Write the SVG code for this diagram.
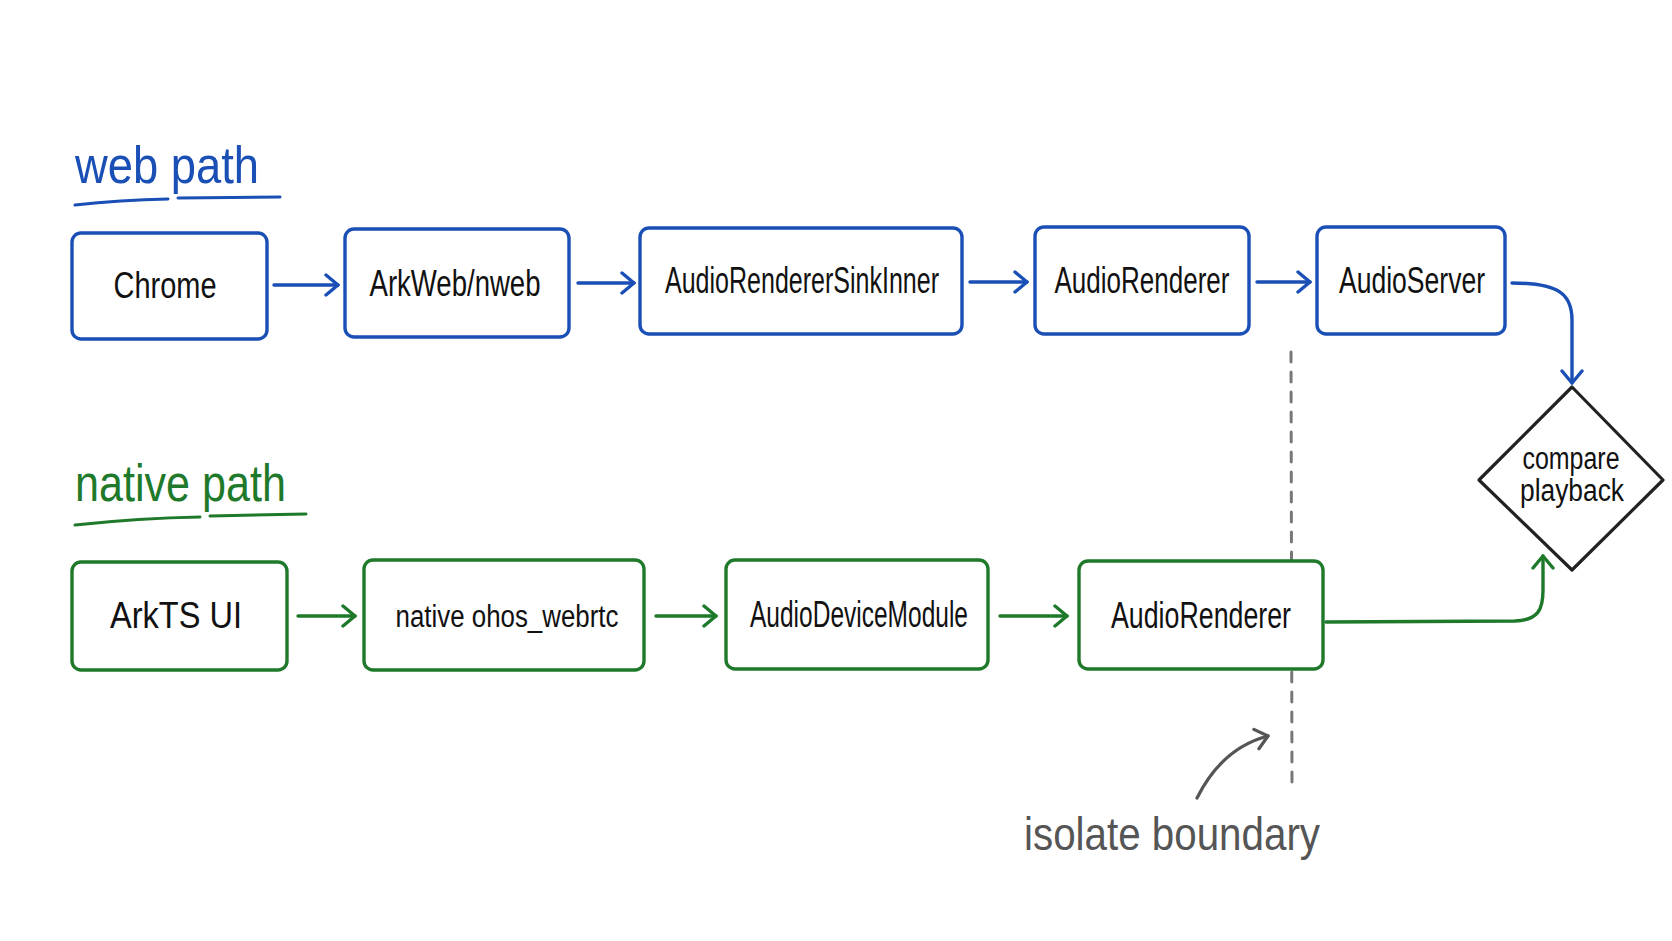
<svg xmlns="http://www.w3.org/2000/svg" width="1672" height="941" viewBox="0 0 1672 941">
<defs>
<style>
text{font-family:"Liberation Sans","DejaVu Sans",sans-serif;}
.lbl{font-size:36px;fill:#111;text-anchor:middle;}
.blue rect{fill:#fff;stroke:#1a4fb5;stroke-width:3.4;}
.green rect{fill:#fff;stroke:#1e7a2a;stroke-width:3.4;}
.title{font-size:52px;}
.cb{fill:none;stroke:#1a4fb5;stroke-width:3.4;stroke-linecap:round;}
.cg{fill:none;stroke:#1e7a2a;stroke-width:3.4;stroke-linecap:round;}
.cgr{fill:none;stroke:#555;stroke-width:3.2;stroke-linecap:round;}
</style>
<marker id="ab" viewBox="0 0 16 24" refX="14" refY="12" markerWidth="16" markerHeight="24" markerUnits="userSpaceOnUse" orient="auto"><path d="M2,2 L14,12 L2,22" fill="none" stroke="#1a4fb5" stroke-width="3.4" stroke-linecap="round" stroke-linejoin="round"/></marker>
<marker id="ag" viewBox="0 0 16 24" refX="14" refY="12" markerWidth="16" markerHeight="24" markerUnits="userSpaceOnUse" orient="auto"><path d="M2,2 L14,12 L2,22" fill="none" stroke="#1e7a2a" stroke-width="3.4" stroke-linecap="round" stroke-linejoin="round"/></marker>
<marker id="agr" viewBox="0 0 16 24" refX="14" refY="12" markerWidth="16" markerHeight="24" markerUnits="userSpaceOnUse" orient="auto"><path d="M2,2 L14,12 L2,22" fill="none" stroke="#555" stroke-width="3.2" stroke-linecap="round" stroke-linejoin="round"/></marker>
</defs>
<rect width="1672" height="941" fill="#fff"/>

<g id="title-web">
<text x="75" y="183" class="title" fill="#1a4fb5" textLength="184" lengthAdjust="spacingAndGlyphs">web path</text>
<path d="M75,205 Q120,200 168,199 M178,198 L280,197" fill="none" stroke="#1a4fb5" stroke-width="3" stroke-linecap="round"/>
</g>
<g id="title-native">
<text x="75" y="501" class="title" fill="#1e7a2a" textLength="211" lengthAdjust="spacingAndGlyphs">native path</text>
<path d="M75,525 Q140,518 200,517 M210,516 L306,514" fill="none" stroke="#1e7a2a" stroke-width="3" stroke-linecap="round"/>
</g>

<g id="boundary">
<line x1="1291" y1="352" x2="1292" y2="789" stroke="#777" stroke-width="3" stroke-dasharray="10 10" stroke-linecap="round"/>
</g>

<g id="connectors">
<line x1="274" y1="285" x2="338" y2="285" class="cb" marker-end="url(#ab)"/>
<line x1="578" y1="283" x2="634" y2="283" class="cb" marker-end="url(#ab)"/>
<line x1="970" y1="282" x2="1027" y2="282" class="cb" marker-end="url(#ab)"/>
<line x1="1257" y1="282" x2="1310" y2="282" class="cb" marker-end="url(#ab)"/>
<path d="M1512,283 C1560,283 1572,295 1572,320 L1572,383" class="cb" marker-end="url(#ab)"/>
<line x1="298" y1="616" x2="355" y2="616" class="cg" marker-end="url(#ag)"/>
<line x1="656" y1="616" x2="716" y2="616" class="cg" marker-end="url(#ag)"/>
<line x1="1000" y1="616" x2="1067" y2="616" class="cg" marker-end="url(#ag)"/>
<path d="M1326,622 L1515,621 C1538,620 1543,610 1543,590 L1543,556" class="cg" marker-end="url(#ag)"/>
<path d="M1197,798 Q1222,748 1268,736" class="cgr" marker-end="url(#agr)"/>
</g>

<g id="n-chrome" class="blue"><rect x="72" y="233" width="195" height="106" rx="9"/><text x="165" y="298" class="lbl" textLength="103" lengthAdjust="spacingAndGlyphs">Chrome</text></g>
<g id="n-arkweb" class="blue"><rect x="345" y="229" width="224" height="108" rx="9"/><text x="455" y="296" class="lbl" textLength="171" lengthAdjust="spacingAndGlyphs">ArkWeb/nweb</text></g>
<g id="n-sink" class="blue"><rect x="640" y="228" width="322" height="106" rx="9"/><text x="802" y="293" class="lbl" textLength="274" lengthAdjust="spacingAndGlyphs">AudioRendererSinkInner</text></g>
<g id="n-renderer-web" class="blue"><rect x="1035" y="227" width="214" height="107" rx="9"/><text x="1142" y="293" class="lbl" textLength="175" lengthAdjust="spacingAndGlyphs">AudioRenderer</text></g>
<g id="n-server" class="blue"><rect x="1317" y="227" width="188" height="107" rx="9"/><text x="1412" y="293" class="lbl" textLength="146" lengthAdjust="spacingAndGlyphs">AudioServer</text></g>

<g id="n-arkts" class="green"><rect x="72" y="562" width="215" height="108" rx="9"/><text x="176" y="628" class="lbl" textLength="132" lengthAdjust="spacingAndGlyphs">ArkTS UI</text></g>
<g id="n-ohos" class="green"><rect x="364" y="560" width="280" height="110" rx="9"/><text x="507" y="627" class="lbl" style="font-size:31px" textLength="223" lengthAdjust="spacingAndGlyphs">native ohos_webrtc</text></g>
<g id="n-adm" class="green"><rect x="726" y="560" width="262" height="109" rx="9"/><text x="859" y="627" class="lbl" textLength="218" lengthAdjust="spacingAndGlyphs">AudioDeviceModule</text></g>
<g id="n-renderer-native" class="green"><rect x="1079" y="561" width="244" height="108" rx="9"/><text x="1201" y="628" class="lbl" textLength="180" lengthAdjust="spacingAndGlyphs">AudioRenderer</text></g>

<g id="n-compare">
<polygon points="1572,387 1663,480 1572,570 1479,480" fill="#fff" stroke="#222" stroke-width="3.2" stroke-linejoin="round"/>
<text x="1571" y="469" class="lbl" style="font-size:31px" textLength="97" lengthAdjust="spacingAndGlyphs">compare</text>
<text x="1572" y="501" class="lbl" style="font-size:31px" textLength="104" lengthAdjust="spacingAndGlyphs">playback</text>
</g>

<g id="annotation">
<text x="1024" y="850" style="font-size:46px" fill="#555" textLength="296" lengthAdjust="spacingAndGlyphs">isolate boundary</text>
</g>
</svg>
